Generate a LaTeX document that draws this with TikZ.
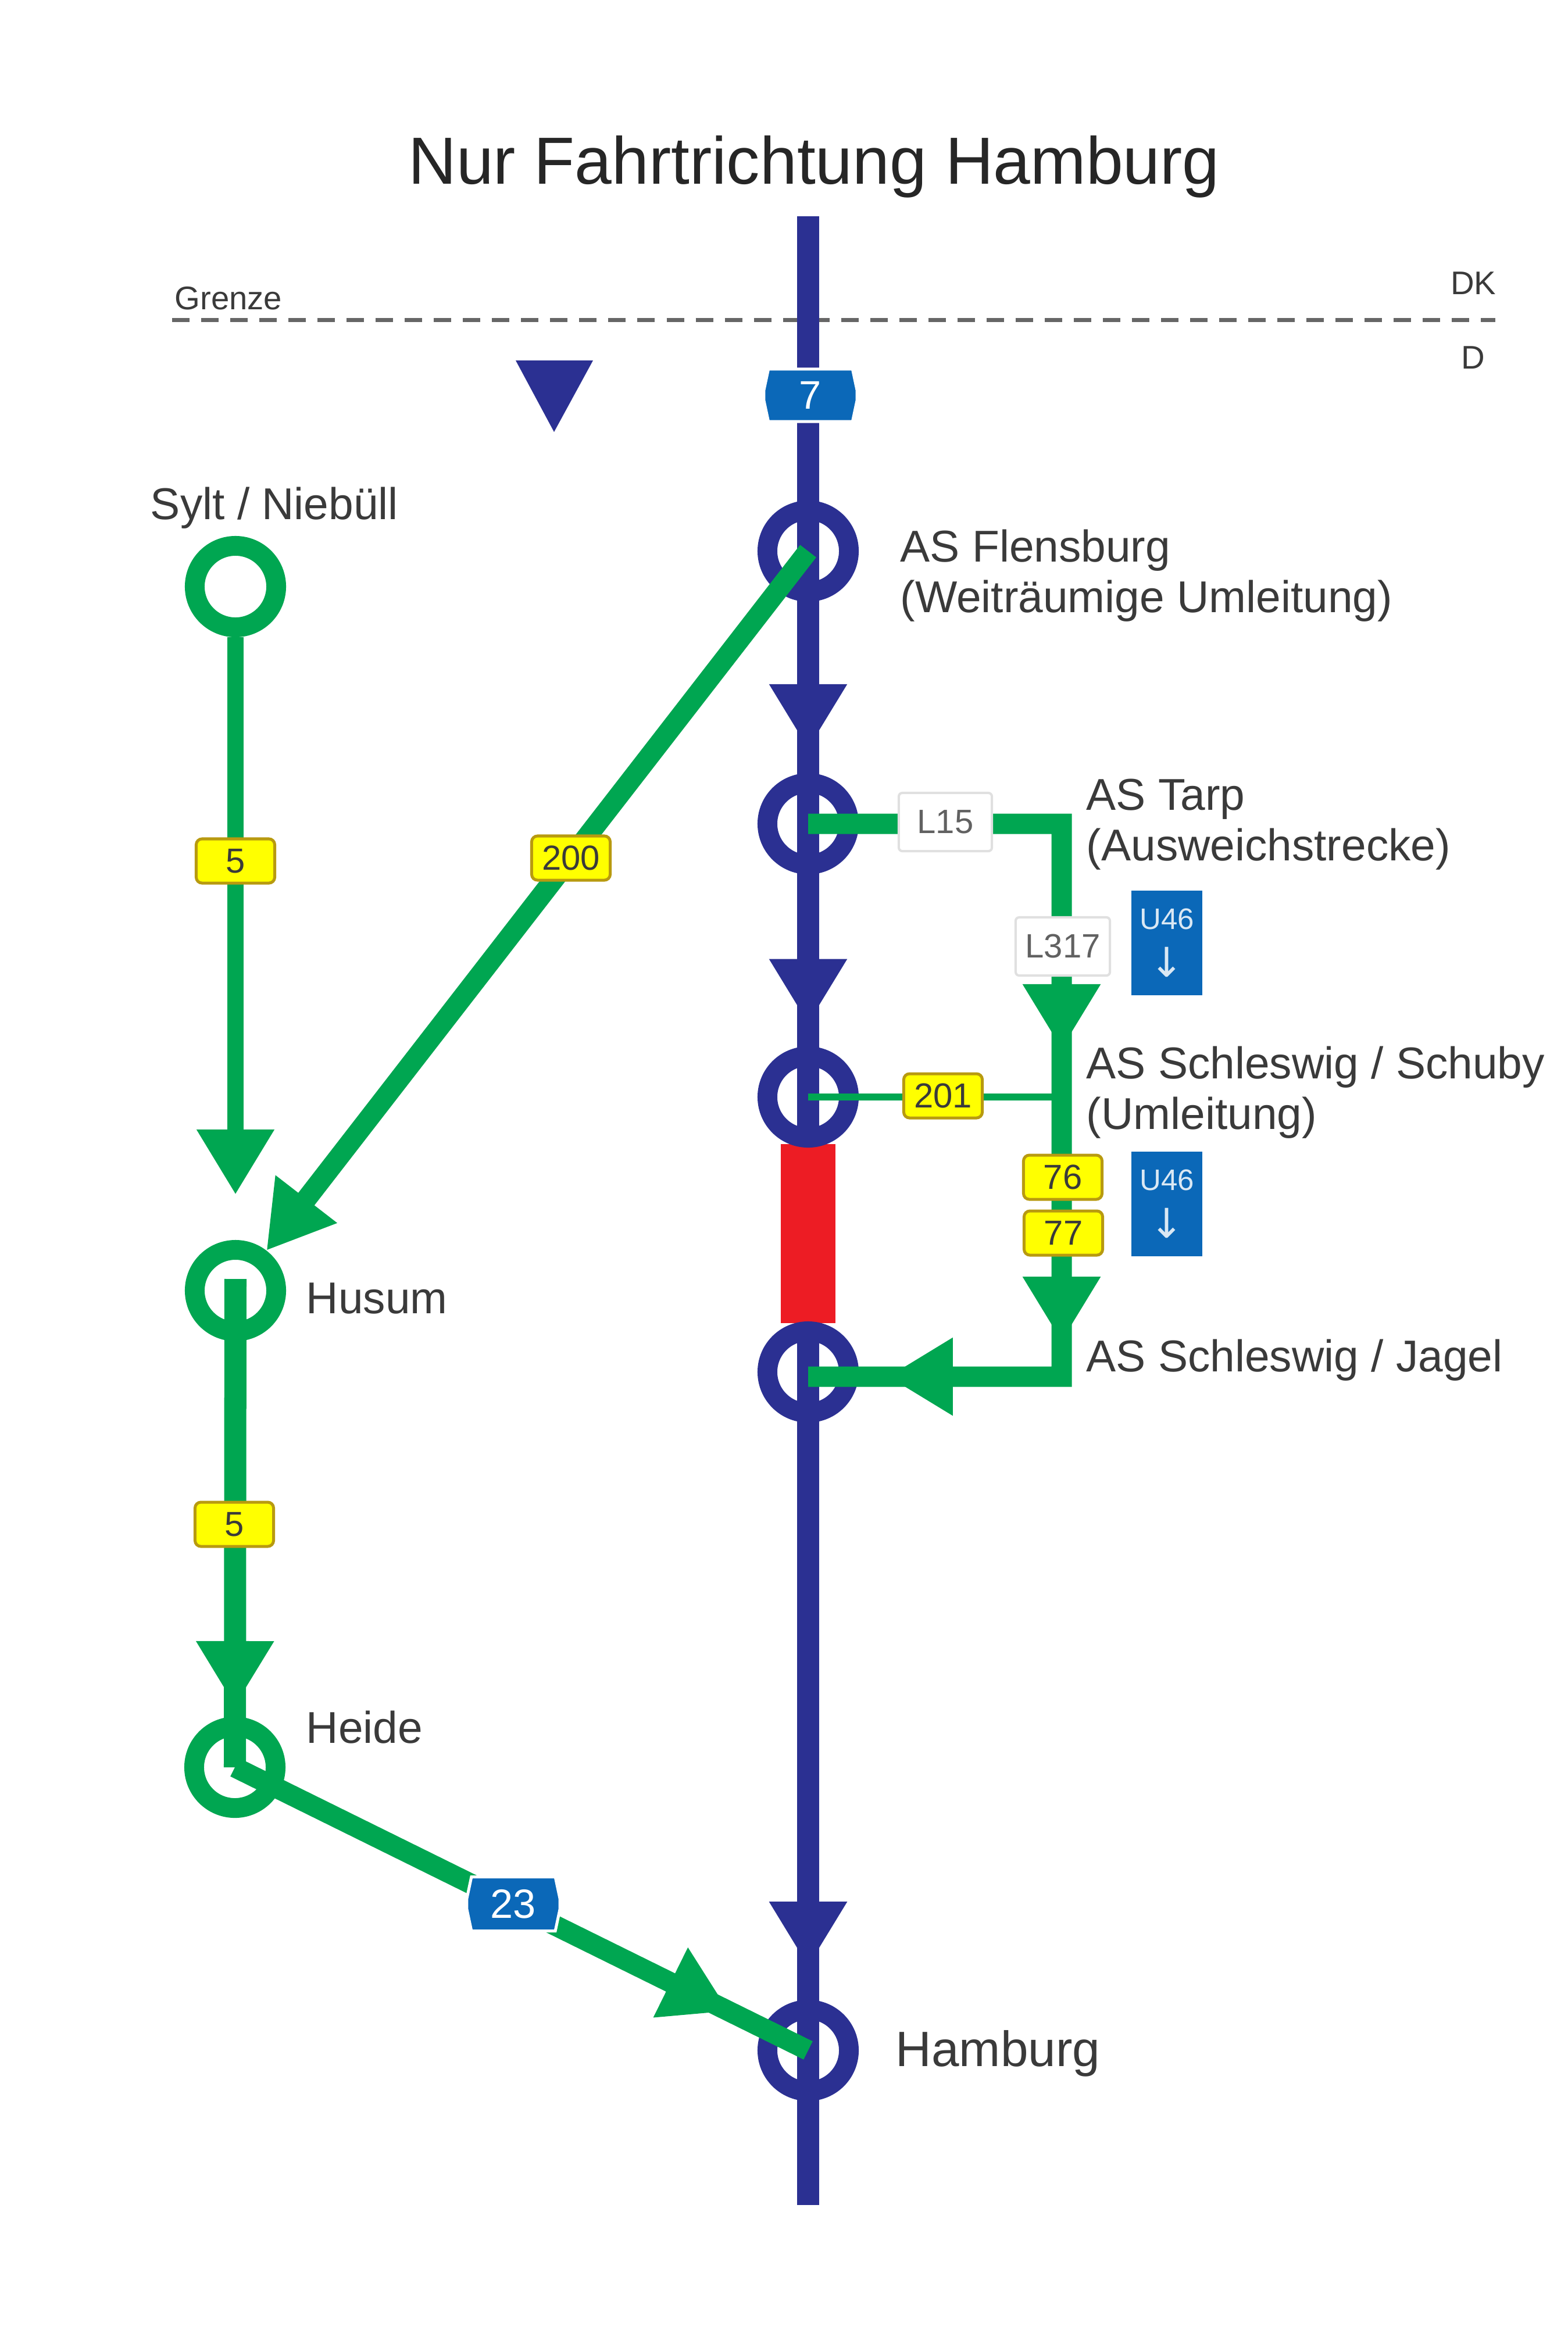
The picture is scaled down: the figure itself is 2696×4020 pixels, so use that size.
\documentclass[tikz,border=0pt]{standalone}
\usepackage{fontspec}
\setmainfont{Liberation Sans}
\newfontfamily\dejavu{DejaVu Sans}
\usetikzlibrary{arrows.meta,decorations.markings,shapes.misc}
\definecolor{navyline}{HTML}{2B3092}
\definecolor{greenline}{HTML}{00A651}
\definecolor{redblock}{HTML}{ED1C24}
\definecolor{signblue}{HTML}{0B68B8}
\definecolor{signyellow}{HTML}{FFFF00}
\definecolor{signgold}{HTML}{B89A10}
\definecolor{labelgray}{HTML}{3A3A3A}
\tikzset{
  bighead/.tip={Triangle[length=1.12cm,width=1.26cm]},
  ring/.style={circle,draw,line width=0.34cm,minimum size=1.40cm,inner sep=0pt,fill=none},
  bluering/.style={ring,draw=navyline},
  greenring/.style={ring,draw=greenline},
  mainline/.style={draw=navyline,line width=0.38cm},
  thickgreen/.style={draw=greenline,line width=0.35cm},
  midgreen/.style={draw=greenline,line width=0.27cm},
  thingreen/.style={draw=greenline,line width=0.12cm},
  yellowsign/.style={rectangle,rounded corners=0.1cm,fill=signyellow,draw=signgold,line width=0.05cm,
    minimum width=1.35cm,minimum height=0.76cm,inner sep=0pt,text=labelgray,font=\fontsize{17}{20}\selectfont},
  whitesign/.style={rectangle,rounded corners=0.06cm,fill=white,draw=black!12,line width=0.04cm,
    minimum height=1.0cm,inner sep=0pt,text=labelgray!80,font=\fontsize{16.5}{20}\selectfont},
  shield/.style={chamfered rectangle,chamfered rectangle angle=12,chamfered rectangle xsep=0.45cm,
    fill=signblue,draw=white,line width=0.05cm,inner sep=0pt,text=white,font=\fontsize{20}{24}\selectfont},
  uplate/.style={rectangle,fill=signblue,minimum width=1.22cm,minimum height=1.79cm,inner sep=0pt,
    align=center,text=white!85!signblue,font=\fontsize{14.5}{17}\selectfont},
  place/.style={anchor=west,inner sep=0pt,align=left,text=labelgray,font=\fontsize{21.8}{24.8}\selectfont},
  small/.style={inner sep=0pt,text=labelgray,font=\fontsize{16}{19}\selectfont},
}
\begin{document}
\begin{tikzpicture}[x=0.01cm,y=-0.01cm]
\useasboundingbox[fill=white] (0,0) rectangle (2696,4020);
% title and border
\node[inner sep=0pt,text=black!85,font=\fontsize{32.6}{38}\selectfont] (title) at (1400,287) {Nur Fahrtrichtung Hamburg};
\coordinate (borderL) at (296,550);
\coordinate (borderR) at (2572,550);
\draw[draw=black!60,line width=0.07cm,dash pattern=on 0.3cm off 0.2cm] (borderL) -- (borderR);
\node[small,anchor=west] (grenze) at (300,513) {Grenze};
\node[small,anchor=east] (dk) at (2574,487) {DK};
\node[small] (d) at (2534,615) {D};
% motorway
\coordinate (top) at (1390,372);
\coordinate (bot) at (1390,3793);
\draw[mainline,postaction={decorate},decoration={markings,
  mark=at position 0.2680 with {\arrow{bighead}},
  mark=at position 0.4062 with {\arrow{bighead}},
  mark=at position 0.8802 with {\arrow{bighead}}}] (top) -- (bot);
\node[fill=redblock,minimum width=0.94cm,minimum height=3.08cm,inner sep=0pt] (closed) at (1390,2122) {};
\fill[navyline] (887,620) -- (1020,620) -- (953,743) -- cycle;
% stations
\node[bluering] (fl) at (1390,948) {};
\node[bluering] (tarp) at (1390,1417) {};
\node[bluering] (schuby) at (1390,1887) {};
\node[bluering] (jagel) at (1390,2360) {};
\node[bluering] (hh) at (1390,3527) {};
\node[greenring] (sylt) at (405,1009) {};
\node[greenring] (husum) at (405,2220) {};
\node[greenring] (heide) at (404,3040) {};
% diversions
\coordinate (syltend) at (405,2055);
\coordinate (c1) at (1826,1417);
\coordinate (c2) at (1826,2368);
\coordinate (c3) at (1826,1887);
\draw[midgreen,-{bighead}] (sylt) -- (syltend);
\draw[thickgreen,-{bighead}] (fl.center) -- (husum);
\draw[thickgreen,line width=0.38cm,postaction={decorate},decoration={markings,mark=at position 0.875 with {\arrow{bighead}}}] ([yshift=0.2cm]husum.center) -- (heide.center);
\draw[thickgreen,postaction={decorate},decoration={markings,mark=at position 0.862 with {\arrow{bighead}}}] (heide.center) -- (hh.center);
\draw[thingreen] (schuby.center) -- (c3);
\draw[thickgreen,postaction={decorate},decoration={markings,
  mark=at position 0.452 with {\arrow{bighead}},
  mark=at position 0.728 with {\arrow{bighead}},
  mark=at position 0.925 with {\arrow{bighead}}}] (tarp.center) -- (c1) -- (c2) -- ([yshift=-0.08cm]jagel.center);
% road signs
\node[shield,minimum width=1.60cm,minimum height=0.90cm,font=\fontsize{19.5}{24}\selectfont] (a7) at (1394,680) {7};
\node[shield,minimum width=1.60cm,minimum height=0.93cm] (a23) at (883,3275) {23};
\node[yellowsign] (b5a) at (405,1481) {5};
\node[yellowsign] (b5b) at (403,2622) {5};
\node[yellowsign] (b200) at (982,1476) {200};
\node[yellowsign] (b201) at (1622,1885) {201};
\node[yellowsign] (b76) at (1828,2025) {76};
\node[yellowsign] (b77) at (1829,2121) {77};
\node[whitesign,minimum width=1.60cm] (l15) at (1626,1414) {L15};
\node[whitesign,minimum width=1.62cm] (l317) at (1828,1628) {L317};
\node[uplate] (u1) at (2007,1622) {U46\\[0.22cm]{\dejavu\fontsize{20}{20}\selectfont ↓}};
\node[uplate] (u2) at (2007,2071) {U46\\[0.22cm]{\dejavu\fontsize{20}{20}\selectfont ↓}};
% labels
\node[anchor=center,inner sep=0pt,text=labelgray,font=\fontsize{21.8}{24.8}\selectfont] (lsylt) at (472,874) {Sylt / Niebüll};
\node[place] (lfl) at (1548,990) {AS Flensburg\\(Weiträumige Umleitung)};
\node[place] (ltarp) at (1868,1418) {AS Tarp\\(Ausweichstrecke)};
\node[place] (lschuby) at (1868,1879) {AS Schleswig / Schuby\\(Umleitung)};
\node[place] (ljagel) at (1868,2340) {AS Schleswig / Jagel};
\node[place] (lhusum) at (526,2233) {Husum};
\node[place] (lheide) at (526,2971) {Heide};
\node[place,font=\fontsize{24.3}{28}\selectfont] (lhh) at (1540,3532) {Hamburg};
\end{tikzpicture}
\end{document}
